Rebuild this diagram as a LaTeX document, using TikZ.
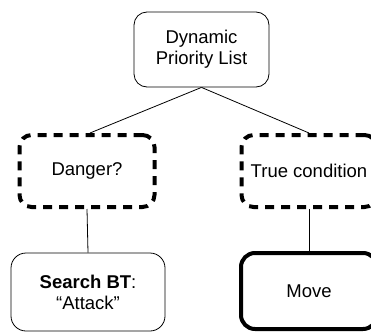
\documentclass[tikz,border=0pt]{standalone}
\usepackage{fontspec}
\setmainfont{Liberation Sans}
\begin{document}
\begin{tikzpicture}[x=1pt,y=-1pt,
  every node/.style={font=\fontsize{18.5}{21}\selectfont, align=center, inner sep=0pt},
  plainbox/.style={draw, line width=0.8pt, rounded corners=13pt},
  condbox/.style={draw, line width=4pt, dash pattern=on 9pt off 7pt, rounded corners=12pt,
                  minimum width=135pt, minimum height=72pt},
  actbox/.style={draw, line width=4pt, rounded corners=14pt},
  link/.style={line width=0.8pt}]
  \useasboundingbox (0,0) rectangle (371,332);
  \clip (0,0) rectangle (371,332);

  % root selector
  \node[plainbox, minimum width=135pt, minimum height=75pt] (root) at (201.5,49.5)
       {Dynamic\\Priority List};

  % condition nodes
  \node[condbox] (danger) at (87,171) {Danger?};
  \node[condbox] (truecond) at (309,171) {True condition};

  % leaves
  \node[plainbox, rounded corners=15pt, minimum width=154pt, minimum height=78pt] (search)
       at (88,292) {\textbf{Search BT}:\\``Attack''};
  \node[actbox, minimum width=136pt, minimum height=76pt] (move) at (309,291) {Move};

  % connectors
  \draw[link] (root.south) -- ([xshift=3pt]danger.north);
  \draw[link] (root.south) -- (truecond.north);
  \draw[link] (danger.south) -- (search.north);
  \draw[link] (truecond.south) -- (move.north);
\end{tikzpicture}
\end{document}
